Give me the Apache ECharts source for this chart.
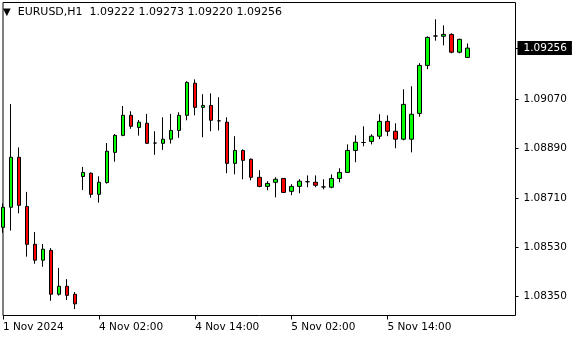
<!DOCTYPE html>
<html><head><meta charset="utf-8">
<script src="https://cdn.jsdelivr.net/npm/echarts@6/dist/echarts.min.js"></script>
<style>html,body{margin:0;padding:0;background:#fff}#c{width:580px;height:340px}</style>
</head><body><div id="c"></div>
<script>
const symbol = 'EURUSD';
const timeframe = 'H1';
const categories = [
 '1 Nov 14:00','1 Nov 15:00','1 Nov 16:00','1 Nov 17:00','1 Nov 18:00','1 Nov 19:00','1 Nov 20:00','1 Nov 21:00','1 Nov 22:00','1 Nov 23:00',
 '4 Nov 00:00','4 Nov 01:00','4 Nov 02:00','4 Nov 03:00','4 Nov 04:00','4 Nov 05:00','4 Nov 06:00','4 Nov 07:00','4 Nov 08:00','4 Nov 09:00','4 Nov 10:00','4 Nov 11:00',
 '4 Nov 12:00','4 Nov 13:00','4 Nov 14:00','4 Nov 15:00','4 Nov 16:00','4 Nov 17:00','4 Nov 18:00','4 Nov 19:00','4 Nov 20:00','4 Nov 21:00','4 Nov 22:00','4 Nov 23:00',
 '5 Nov 00:00','5 Nov 01:00','5 Nov 02:00','5 Nov 03:00','5 Nov 04:00','5 Nov 05:00','5 Nov 06:00','5 Nov 07:00','5 Nov 08:00','5 Nov 09:00','5 Nov 10:00','5 Nov 11:00',
 '5 Nov 12:00','5 Nov 13:00','5 Nov 14:00','5 Nov 15:00','5 Nov 16:00','5 Nov 17:00','5 Nov 18:00','5 Nov 19:00','5 Nov 20:00','5 Nov 21:00','5 Nov 22:00','5 Nov 23:00',
 '6 Nov 00:00','6 Nov 01:00','6 Nov 02:00','6 Nov 03:00','6 Nov 04:00','6 Nov 05:00','6 Nov 06:00'
];
const opens = [1.08603,1.08676,1.08858,1.08679,1.08541,1.08483,1.08519,1.08359,1.08388,1.08359,
 1.08788,1.08800,1.08723,1.08766,1.08876,1.08938,1.09011,1.08967,1.08982,1.08910,1.08909,1.08924,
 1.08956,1.09011,1.09128,1.09040,1.09047,1.08991,1.08986,1.08836,1.08883,1.08851,1.08785,1.08752,
 1.08767,1.08781,1.08734,1.08752,1.08769,1.08767,1.08750,1.08749,1.08781,1.08803,1.08883,1.08912,
 1.08916,1.08935,1.08989,1.08953,1.08924,1.08924,1.09018,1.09193,1.09300,1.09299,1.09306,1.09241,1.09222];
const closes = [1.08676,1.08858,1.08683,1.08541,1.08483,1.08523,1.08359,1.08388,1.08355,1.08324,
 1.08803,1.08723,1.08767,1.08880,1.08938,1.09011,1.08971,1.08986,1.08909,1.08910,1.08924,1.08956,
 1.09011,1.09131,1.09040,1.09047,1.08993,1.08991,1.08836,1.08883,1.08847,1.08785,1.08752,1.08763,
 1.08778,1.08730,1.08752,1.08771,1.08769,1.08756,1.08750,1.08781,1.08803,1.08883,1.08913,1.08912,
 1.08935,1.08989,1.08953,1.08924,1.09051,1.09015,1.09193,1.09295,1.09300,1.09306,1.09241,1.09288,1.09256];
const lows = [1.08583,1.08591,1.08654,1.08496,1.08470,1.08459,1.08335,1.08354,1.08338,1.08305,
 1.08739,1.08711,1.08693,1.08762,1.08842,1.08935,1.08962,1.08937,1.08907,1.08867,1.08885,1.08908,
 1.08929,1.08993,1.09011,1.08931,1.08953,1.08956,1.08800,1.08796,1.08778,1.08774,1.08749,1.08738,
 1.08712,1.08729,1.08720,1.08727,1.08749,1.08749,1.08741,1.08745,1.08767,1.08801,1.08840,1.08898,
 1.08905,1.08924,1.08935,1.08891,1.08920,1.08876,1.09006,1.09179,1.09283,1.09266,1.09237,1.09237,1.09220];
const highs = [1.08690,1.09052,1.08894,1.08732,1.08586,1.08542,1.08527,1.08455,1.08414,1.08367,
 1.08823,1.08803,1.08789,1.08910,1.08943,1.09045,1.09026,1.08994,1.09016,1.08953,1.09004,1.09016,
 1.09022,1.09135,1.09142,1.09088,1.09091,1.09077,1.09004,1.08935,1.08887,1.08854,1.08811,1.08771,
 1.08785,1.08782,1.08760,1.08778,1.08792,1.08792,1.08778,1.08796,1.08818,1.08905,1.08938,1.08971,
 1.08942,1.09015,1.09011,1.08982,1.09106,1.09117,1.09201,1.09299,1.09361,1.09339,1.09310,1.09290,1.09273];
const xTickIndex = [0, 12, 24, 36, 48];
const xTickText = ['1 Nov 2024', '4 Nov 02:00', '4 Nov 14:00', '5 Nov 02:00', '5 Nov 14:00'];
const yTickValues = [1.08350, 1.08530, 1.08710, 1.08890, 1.09070];

const last = opens.length - 1;
const lastClose = closes[last];
const candleData = categories.map((c, i) => i < opens.length ? [opens[i], closes[i], lows[i], highs[i]] : '-');
const header = '{tri|\u25BC}  ' + symbol + ',' + timeframe + '  ' +
  [opens[last], highs[last], lows[last], closes[last]].map(v => v.toFixed(5)).join(' ');
const FONT = 'DejaVu Sans';
const labelMap = {};
xTickIndex.forEach((k, j) => labelMap[k] = xTickText[j]);

const chart = echarts.init(document.getElementById('c'), null, {renderer: 'canvas'});
chart.setOption({
  animation: false,
  backgroundColor: '#fff',
  title: {
    text: header, left: 3, top: 7, padding: 0,
    textStyle: {fontFamily: FONT, fontSize: 11, fontWeight: 'normal', color: '#000',
      rich: {tri: {fontFamily: FONT, fontSize: 10, color: '#000'}}}
  },
  grid: {left: 2.5, right: 64.5, top: 2.5, bottom: 24.5, show: true, borderColor: '#000', borderWidth: 1, backgroundColor: 'transparent'},
  xAxis: {
    type: 'category', data: categories, boundaryGap: false,
    axisLine: {show: false},
    axisTick: {show: true, length: 4, lineStyle: {color: '#000'}, interval: (i) => labelMap[i] !== undefined},
    axisLabel: {
      interval: (i) => labelMap[i] !== undefined,
      formatter: (v, i) => labelMap[i] || '',
      align: 'left', margin: 6, color: '#000', fontFamily: FONT, fontSize: 10.5
    },
    splitLine: {show: false}
  },
  yAxis: {
    type: 'value', position: 'right', min: 1.082815, max: 1.094222, scale: true,
    axisLine: {show: false},
    splitLine: {show: false},
    axisTick: {show: true, length: 3, lineStyle: {color: '#000'}, customValues: yTickValues.concat([lastClose])},
    axisLabel: {
      customValues: yTickValues.concat([lastClose]),
      margin: 2, color: '#000', fontFamily: FONT, fontSize: 10.5,
      formatter: (v) => (Math.abs(v - lastClose) < 1e-9 ? '{hl|' : '{n|') + Number(v).toFixed(5) + '}',
      rich: {
        n: {fontFamily: FONT, fontSize: 10.5, color: '#000', padding: [1, 5, 1, 6]},
        hl: {fontFamily: FONT, fontSize: 10.5, color: '#fff', backgroundColor: '#000', padding: [2, 5, 1, 6]}
      }
    }
  },
  series: [{
    type: 'candlestick',
    data: candleData,
    barWidth: 4,
    itemStyle: {
      color: '#00ff00', color0: '#ff0000',
      borderColor: '#000', borderColor0: '#000', borderColorDoji: '#000', borderWidth: 1
    }
  }]
});
</script></body></html>
